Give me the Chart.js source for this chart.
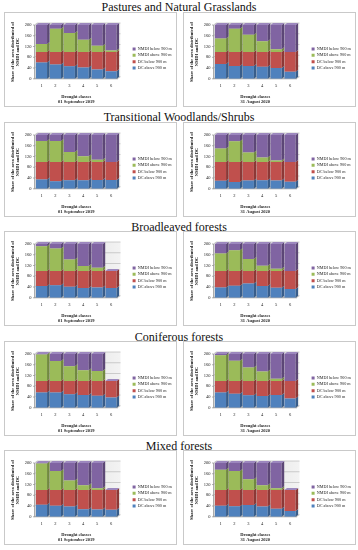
<!DOCTYPE html>
<html>
<head>
<meta charset="utf-8">
<script src="https://cdn.jsdelivr.net/npm/chart.js@4.4.1/dist/chart.umd.min.js"></script>
<style>
  html, body { margin: 0; padding: 0; background: #fff; }
  #page { position: relative; width: 358px; height: 550px; overflow: hidden; font-family: "Liberation Serif", serif; }
  .row-title { position: absolute; left: 0; width: 358px; text-align: center; font-size: 12px; line-height: 12px; color: #111; }
  .panel { position: absolute; width: 171px; height: 93px; border: 1px solid #c9c9c9; background: #fff; }
  .panel canvas { display: block; }
</style>
</head>
<body>
<div id="page"></div>
<script>
/* ---------- DATA ---------- */
const classes = ["1", "2", "3", "4", "5", "6"];
const seriesNames = ["DC above 900 m", "DC below 900 m", "NMDI above 900 m", "NMDI below 900 m"];
const dates = ["01 September 2019", "31 August 2020"];
const rowTitles = [
  "Pastures and Natural Grasslands",
  "Transitional Woodlands/Shrubs",
  "Broadleaved forests",
  "Coniferous forests",
  "Mixed forests",
];
const yTitle = ["Share of the area distributed of", "NMDI and DC"];
const xTitle = "Drought classes";

// each panel: [DC above 900 m, DC below 900 m, NMDI above 900 m, NMDI below 900 m]
const pastures2019 = [
  [61, 53, 47, 42, 35, 28],
  [39, 47, 53, 58, 65, 72],
  [29, 86, 70, 45, 23, 5],
  [71, 14, 30, 55, 77, 95],
];
const pastures2020 = [
  [55, 48, 48, 45, 40, 26],
  [45, 52, 52, 55, 60, 74],
  [50, 86, 64, 40, 10, 0],
  [50, 14, 36, 60, 90, 100],
];
const transitional2019 = [
  [35, 28, 32, 32, 33, 33],
  [65, 72, 68, 68, 67, 67],
  [78, 78, 37, 21, 8, 0],
  [22, 22, 63, 79, 92, 100],
];
const transitional2020 = [
  [30, 25, 31, 32, 31, 26],
  [70, 75, 69, 68, 69, 74],
  [50, 77, 35, 16, 5, 0],
  [50, 23, 65, 84, 95, 100],
];
const broadleaved2019 = [
  [44, 47, 41, 36, 38, 36],
  [56, 53, 59, 64, 62, 64],
  [92, 83, 42, 18, 12, 0],
  [8, 17, 58, 82, 88, 0],
];
const broadleaved2020 = [
  [38, 45, 53, 44, 37, 33],
  [62, 55, 47, 56, 63, 67],
  [65, 77, 44, 19, 8, 0],
  [35, 23, 56, 81, 92, 100],
];
const coniferous2019 = [
  [57, 57, 50, 48, 45, 38],
  [43, 43, 50, 52, 55, 62],
  [98, 74, 54, 40, 37, 0],
  [2, 26, 46, 60, 63, 0],
];
const coniferous2020 = [
  [57, 52, 47, 44, 48, 35],
  [43, 48, 53, 56, 52, 65],
  [95, 75, 50, 35, 8, 0],
  [5, 25, 50, 65, 92, 100],
];
const mixed2019 = [
  [45, 41, 38, 28, 27, 26],
  [55, 59, 62, 72, 73, 74],
  [98, 70, 35, 17, 6, 0],
  [2, 30, 65, 83, 94, 0],
];
const mixed2020 = [
  [41, 39, 44, 38, 30, 22],
  [59, 61, 56, 62, 70, 78],
  [75, 70, 40, 17, 6, 0],
  [25, 30, 60, 83, 94, 0],
];

const panels = [
  [pastures2019, pastures2020],
  [transitional2019, transitional2020],
  [broadleaved2019, broadleaved2020],
  [coniferous2019, coniferous2020],
  [mixed2019, mixed2020],
];

/* ---------- LAYOUT / STYLE ---------- */
const titleTop = [1, 111, 221, 331, 440];
const rowTop = [12, 122, 231, 341, 450];
const colLeft = [4, 183];

const fronts = ["#4F81BD", "#C0504D", "#9BBB59", "#8064A2"];
const sides = ["#385D8A", "#8C3836", "#71893F", "#5C4776"];
const tops = ["#7EA1D2", "#D47C79", "#B7D186", "#9C87BE"];
const serif = "'Liberation Serif', serif";
const ink = "#222";

const DX = 2.5;
const DY = 2;

function poly(ctx, pts) {
  ctx.beginPath();
  ctx.moveTo(pts[0][0], pts[0][1]);
  for (let i = 1; i < pts.length; i++) ctx.lineTo(pts[i][0], pts[i][1]);
  ctx.closePath();
}

/* ---------- 3D WALLS + BAR SIDES ---------- */
const walls3d = {
  id: "walls3d",
  beforeDatasetsDraw(chart) {
    const { ctx, chartArea: a } = chart;
    const ys = chart.scales.y;
    const L = a.left, R = a.right, T = a.top, B = a.bottom;
    ctx.save();
    const g = ctx.createLinearGradient(L, 0, R + DX, 0);
    g.addColorStop(0, "#d2d2d2");
    g.addColorStop(1, "#f3f3f3");
    ctx.fillStyle = g;
    ctx.fillRect(L + DX, T - DY, R - L, B - T);
    ctx.fillStyle = "#dedede";
    poly(ctx, [[L, T], [L + DX, T - DY], [L + DX, B - DY], [L, B]]);
    ctx.fill();
    ctx.fillStyle = "#c0c0c0";
    poly(ctx, [[L, B], [R, B], [R + DX, B - DY], [L + DX, B - DY]]);
    ctx.fill();

    ctx.strokeStyle = "#b0b0b0";
    ctx.lineWidth = 0.6;
    ys.ticks.forEach((t) => {
      const py = ys.getPixelForValue(t.value);
      ctx.beginPath();
      ctx.moveTo(L, py);
      ctx.lineTo(L + DX, py - DY);
      ctx.lineTo(R + DX, py - DY);
      ctx.stroke();
    });

    ctx.strokeStyle = "#8a8a8a";
    ctx.lineWidth = 0.7;
    ctx.beginPath();
    ctx.moveTo(L, T);
    ctx.lineTo(L, B);
    ctx.lineTo(R, B);
    ys.ticks.forEach((t) => {
      const py = ys.getPixelForValue(t.value);
      ctx.moveTo(L - 1.5, py);
      ctx.lineTo(L, py);
    });
    ctx.stroke();
    ctx.restore();
  },
  afterDatasetsDraw(chart) {
    const { ctx } = chart;
    const metas = chart.getSortedVisibleDatasetMetas();
    ctx.save();
    metas.forEach((meta) => {
      meta.data.forEach((bar) => {
        const { x, y, base, width } = bar.getProps(["x", "y", "base", "width"], true);
        if (Math.abs(base - y) < 0.01) return;
        const r = x + width / 2;
        ctx.fillStyle = sides[meta.index];
        poly(ctx, [[r, y], [r + DX, y - DY], [r + DX, base - DY], [r, base]]);
        ctx.fill();
      });
    });
    const top = metas[metas.length - 1];
    top.data.forEach((bar) => {
      const { x, y, width } = bar.getProps(["x", "y", "width"], true);
      const l = x - width / 2, r = x + width / 2;
      ctx.fillStyle = tops[top.index];
      poly(ctx, [[l, y], [r, y], [r + DX, y - DY], [l + DX, y - DY]]);
      ctx.fill();
    });
    ctx.restore();
  },
};

/* ---------- BUILD ---------- */
const page = document.getElementById("page");

rowTitles.forEach((name, r) => {
  const t = document.createElement("div");
  t.className = "row-title";
  t.style.top = titleTop[r] + "px";
  t.textContent = name;
  page.appendChild(t);

  [0, 1].forEach((c) => {
    const box = document.createElement("div");
    box.className = "panel";
    box.style.left = colLeft[c] + "px";
    box.style.top = rowTop[r] + "px";
    const cv = document.createElement("canvas");
    cv.width = 171;
    cv.height = 93;
    box.appendChild(cv);
    page.appendChild(box);

    const values = panels[r][c];
    new Chart(cv, {
      type: "bar",
      data: {
        labels: classes,
        datasets: seriesNames.map((n, k) => ({
          label: n,
          data: values[k],
          yAxisID: "y",
          backgroundColor: fronts[k],
          borderWidth: 0,
          barPercentage: 0.8,
          categoryPercentage: 1,
        })),
      },
      options: {
        responsive: false,
        animation: false,
        devicePixelRatio: 1,
        layout: { padding: { left: 4, right: 1.5, top: 12, bottom: 1 } },
        plugins: {
          legend: {
            position: "right",
            align: "start",
            reverse: true,
            maxWidth: 44,
            title: {
              display: true,
              text: " ",
              padding: { top: 14.8, bottom: 0 },
              font: { family: serif, size: 4.2 },
            },
            labels: {
              boxWidth: 3,
              boxHeight: 3,
              padding: 2.1,
              color: ink,
              font: { family: serif, size: 4.2 },
            },
          },
          tooltip: { enabled: false },
        },
        scales: {
          x: {
            stacked: true,
            grid: { display: false, drawTicks: false },
            border: { display: false },
            ticks: { color: ink, padding: 4, font: { family: serif, size: 4.5 } },
            title: {
              display: true,
              text: [xTitle, dates[c]],
              color: ink,
              padding: { top: 2, bottom: 0 },
              font: { family: serif, size: 4.5, weight: "bold" },
            },
          },
          y: {
            stacked: true,
            min: 0,
            max: 200,
            grid: { display: false, drawTicks: false },
            border: { display: false },
            ticks: { stepSize: 20, color: ink, padding: 3, font: { family: serif, size: 4.5 } },
            title: {
              display: true,
              text: yTitle,
              color: ink,
              padding: 1,
              font: { family: serif, size: 4.5, weight: "bold" },
            },
          },
          gap: {
            type: "linear",
            position: "right",
            display: true,
            grid: { display: false, drawTicks: false },
            border: { display: false },
            ticks: { display: false },
            afterFit: (s) => { s.width = 12.5; },
          },
        },
      },
      plugins: [walls3d],
    });
  });
});
</script>
</body>
</html>
